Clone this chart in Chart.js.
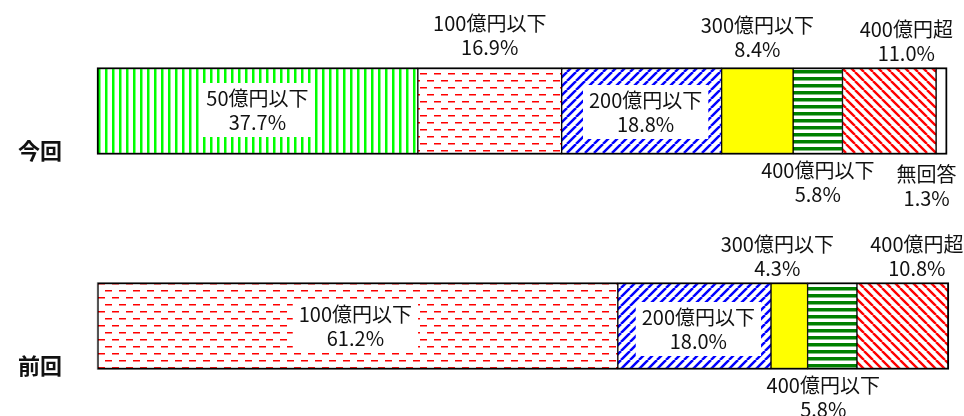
<!DOCTYPE html>
<html lang="ja">
<head>
<meta charset="utf-8">
<script src="https://cdn.jsdelivr.net/npm/chart.js@4"></script>
<style>
  html, body { margin: 0; background: #fff; }
  canvas { display: block; }
</style>
</head>
<body>
<canvas id="chart" width="964" height="416"></canvas>
<script>
// ---- data ----
const categories = ['今回', '前回'];
const seriesNames = ['50億円以下', '100億円以下', '200億円以下', '300億円以下', '400億円以下', '400億円超', '無回答'];
const konkaiValues = [37.7, 16.9, 18.8, 8.4, 5.8, 11.0, 1.3];
const zenkaiValues = [0, 61.2, 18.0, 4.3, 5.8, 10.8, 0];

// label placement per category / series (offset from segment centre, px)
const labelPlacement = [
  [
    { dx: 0, dy: -1, box: true },
    { dx: 0, dy: -76 },
    { dx: 4, dy: 1, box: true },
    { dx: 0, dy: -74 },
    { dx: 0, dy: 71 },
    { dx: 17, dy: -70 },
    { dx: -15, dy: 75 }
  ],
  [
    null,
    { dx: -2, dy: 0, box: true },
    { dx: 4, dy: 3, box: true },
    { dx: -12, dy: -70 },
    { dx: -9, dy: 71 },
    { dx: 14, dy: -70 },
    null
  ]
];

/* ---------- fill patterns ---------- */
function makePattern(w, h, draw) {
  const c = document.createElement('canvas');
  c.width = w;
  c.height = h;
  const g = c.getContext('2d');
  g.fillStyle = '#fff';
  g.fillRect(0, 0, w, h);
  draw(g, w, h);
  return g.createPattern(c, 'repeat');
}

function diagonal(color, p, lw, up) {
  return makePattern(p, p, (g) => {
    g.strokeStyle = color;
    g.lineWidth = lw;
    g.beginPath();
    for (let k = -1; k <= 1; k++) {
      if (up) {
        g.moveTo(k * p, p);
        g.lineTo(k * p + p, 0);
      } else {
        g.moveTo(k * p, 0);
        g.lineTo(k * p + p, p);
      }
    }
    g.stroke();
  });
}

const fills = [
  makePattern(7, 4, (g, w, h) => { g.fillStyle = '#00ff00'; g.fillRect(0, 0, 2.5, h); }),
  makePattern(14, 14, (g) => {
    g.fillStyle = '#ff0000';
    g.fillRect(0, 3, 7, 1.5);
    g.fillRect(7, 10, 7, 1.5);
  }),
  diagonal('#0000ff', 9, 2.5, true),
  '#ffff00',
  makePattern(4, 7, (g, w) => { g.fillStyle = '#008000'; g.fillRect(0, 0, w, 3.5); }),
  diagonal('#ff0000', 9, 2.4, false),
  '#ffffff'
];

/* ---------- borders: outer 2px, separators 2px ---------- */
function segmentBorder(ctx) {
  const j = ctx.dataIndex;
  const vals = j === 0 ? konkaiValues : zenkaiValues;
  const i = ctx.datasetIndex;
  if (!vals[i]) return 0;
  let first = vals.findIndex(v => v > 0);
  let last = vals.length - 1;
  while (last > 0 && !(vals[last] > 0)) last--;
  return { top: 2, bottom: 2, left: i === first ? 2 : 1, right: i === last ? 2 : 1 };
}

/* ---------- segment labels ---------- */
const segmentLabels = {
  id: 'segmentLabels',
  afterDatasetsDraw(chart) {
    const ctx = chart.ctx;
    ctx.save();
    ctx.font = '20px "Noto Sans CJK JP"';
    ctx.textAlign = 'center';
    ctx.textBaseline = 'middle';
    chart.data.datasets.forEach((ds, i) => {
      const meta = chart.getDatasetMeta(i);
      meta.data.forEach((bar, j) => {
        const v = ds.data[j];
        const place = labelPlacement[j][i];
        if (!v || !place) return;
        const cx = (bar.x + bar.base) / 2 + place.dx;
        const cy = bar.y + place.dy;
        const lines = [ds.label, v.toFixed(1) + '%'];
        if (place.box) {
          const w = Math.max(...lines.map(t => ctx.measureText(t).width)) + 12;
          ctx.fillStyle = '#fff';
          ctx.fillRect(cx - w / 2, cy - 27, w, 54);
        }
        ctx.fillStyle = '#111';
        ctx.fillText(lines[0], cx, cy - 12);
        ctx.fillText(lines[1], cx, cy + 12);
      });
    });
    ctx.restore();
  }
};

new Chart(document.getElementById('chart'), {
  type: 'bar',
  data: {
    labels: categories,
    datasets: seriesNames.map((name, i) => ({
      label: name,
      data: [konkaiValues[i], zenkaiValues[i]],
      backgroundColor: fills[i],
      borderColor: '#000',
      borderWidth: segmentBorder,
      borderSkipped: false,
      barThickness: 87,
      clip: false
    }))
  },
  options: {
    indexAxis: 'y',
    responsive: false,
    animation: false,
    layout: { padding: { top: 111, bottom: 90, left: 18, right: 16 } },
    plugins: {
      legend: { display: false },
      tooltip: { enabled: false }
    },
    scales: {
      x: { stacked: true, min: 0, max: 100, display: false },
      y: {
        stacked: true,
        offset: false,
        grid: { display: false, drawTicks: false },
        border: { display: false },
        afterFit: (axis) => { axis.width = 79; },
        ticks: {
          color: '#111',
          padding: 35,
          labelOffset: 40,
          font: { family: '"Noto Sans CJK JP"', size: 22, weight: 'bold' }
        }
      }
    }
  },
  plugins: [segmentLabels]
});
</script>
</body>
</html>
